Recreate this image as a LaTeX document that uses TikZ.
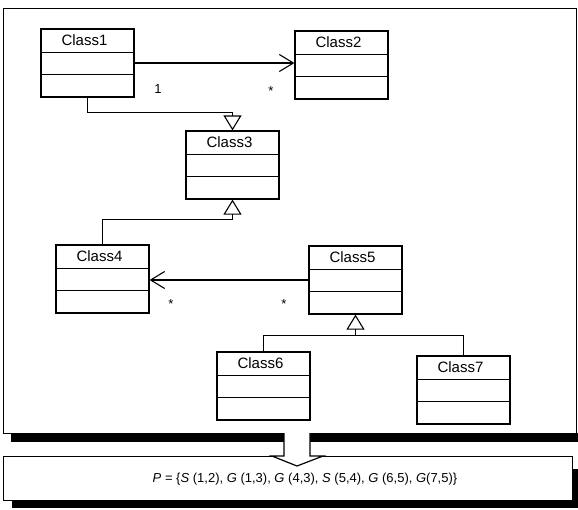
\documentclass[tikz,border=0pt]{standalone}
\usepackage{fontspec}
\setmainfont{Liberation Sans}
\usetikzlibrary{calc,arrows.meta}
\tikzset{
	cls/.style={draw, line width=1.2pt, minimum width=93pt, minimum height=68pt, inner sep=0pt},
	assoc/.style={line width=1.2pt, -{Straight Barb[length=14pt,width=17pt,line width=1.1pt]}},
	gen/.style={line width=1.2pt, -{Triangle[open,length=15pt,width=18pt,line width=1.1pt]}},
	mult/.style={font=\fontsize{13}{15}\selectfont, inner sep=0pt}
}
\def\umlclass(#1)(#2)#3{
	\node[cls] (#1) at (#2) {};
	\node[font=\fontsize{15}{18}\selectfont] (#1-t) at ($(#1.north)+(-3,12)$) {#3};
	\draw[line width=1.2pt] ($(#1.north west)+(0,24)$) -- ($(#1.north east)+(0,24)$);
	\draw[line width=1.2pt] ($(#1.north west)+(0,46)$) -- ($(#1.north east)+(0,46)$);
}

\begin{document}
\begin{tikzpicture}[x=1pt,y=-1pt]
			%%%%% START %%%%%
			\useasboundingbox (0,0) rectangle (578,509);
			
			% frame round the model
			\fill (11,433) rectangle (585,442);
			\node[draw, line width=1.2pt, anchor=north west, minimum width=573pt, minimum height=425pt, inner sep=0pt] (model) at (3,8) {};
			
			\umlclass(c1)(87.5,63){Class1}
			\umlclass(c2)(341.5,65){Class2}
			\umlclass(c3)(232.5,165){Class3}
			\umlclass(c4)(102.5,279){Class4}
			\umlclass(c5)(355.5,280){Class5}
			\umlclass(c6)(263.5,386){Class6}
			\umlclass(c7)(463.5,390){Class7}
			
			\draw[assoc] (c1.east) -- (c1.east -| c2.west);
			\node[mult] (m12a) at (158,89) {1};
			\node[mult] (m12b) at (271,91) {*};
			
			\draw[gen] (c1.south) -- ++(0,15) -| (c3.north);
			\draw[gen] (c4.north) -- ++(0,-25) -| (c3.south);
			
			\draw[assoc] (c5.west) -- (c5.west -| c4.east);
			\node[mult] (m54a) at (171,304) {*};
			\node[mult] (m54b) at (284,304) {*};
			
			\draw[gen] (c6.north) -- ++(0,-16) coordinate (j) -| (c5.south);
			\draw[line width=1.2pt] (c7.north) |- (j);
			
			% result box
			\fill (12,500) rectangle (585,508);
			\fill (572,469) rectangle (585,508);
			\node[draw, line width=1.2pt, anchor=north west, minimum width=569pt, minimum height=44pt, inner sep=0pt] (res) at (3,456) {};
			\node[font=\fontsize{13}{15}\selectfont] (pset) at (305,479) {\textit{P} = \{\textit{S} (1,2), \textit{G} (1,3), \textit{G} (4,3), \textit{S} (5,4), \textit{G} (6,5), \textit{G}(7,5)\}};
			
			% hollow arrow down
			\draw[line width=1.2pt, fill=white] (284,433) -- (284,456) -- (272,456) -- (297,466) -- (323,456) -- (310,456) -- (310,433);
			
			%%%%% END %%%%%
\end{tikzpicture}
\end{document}
